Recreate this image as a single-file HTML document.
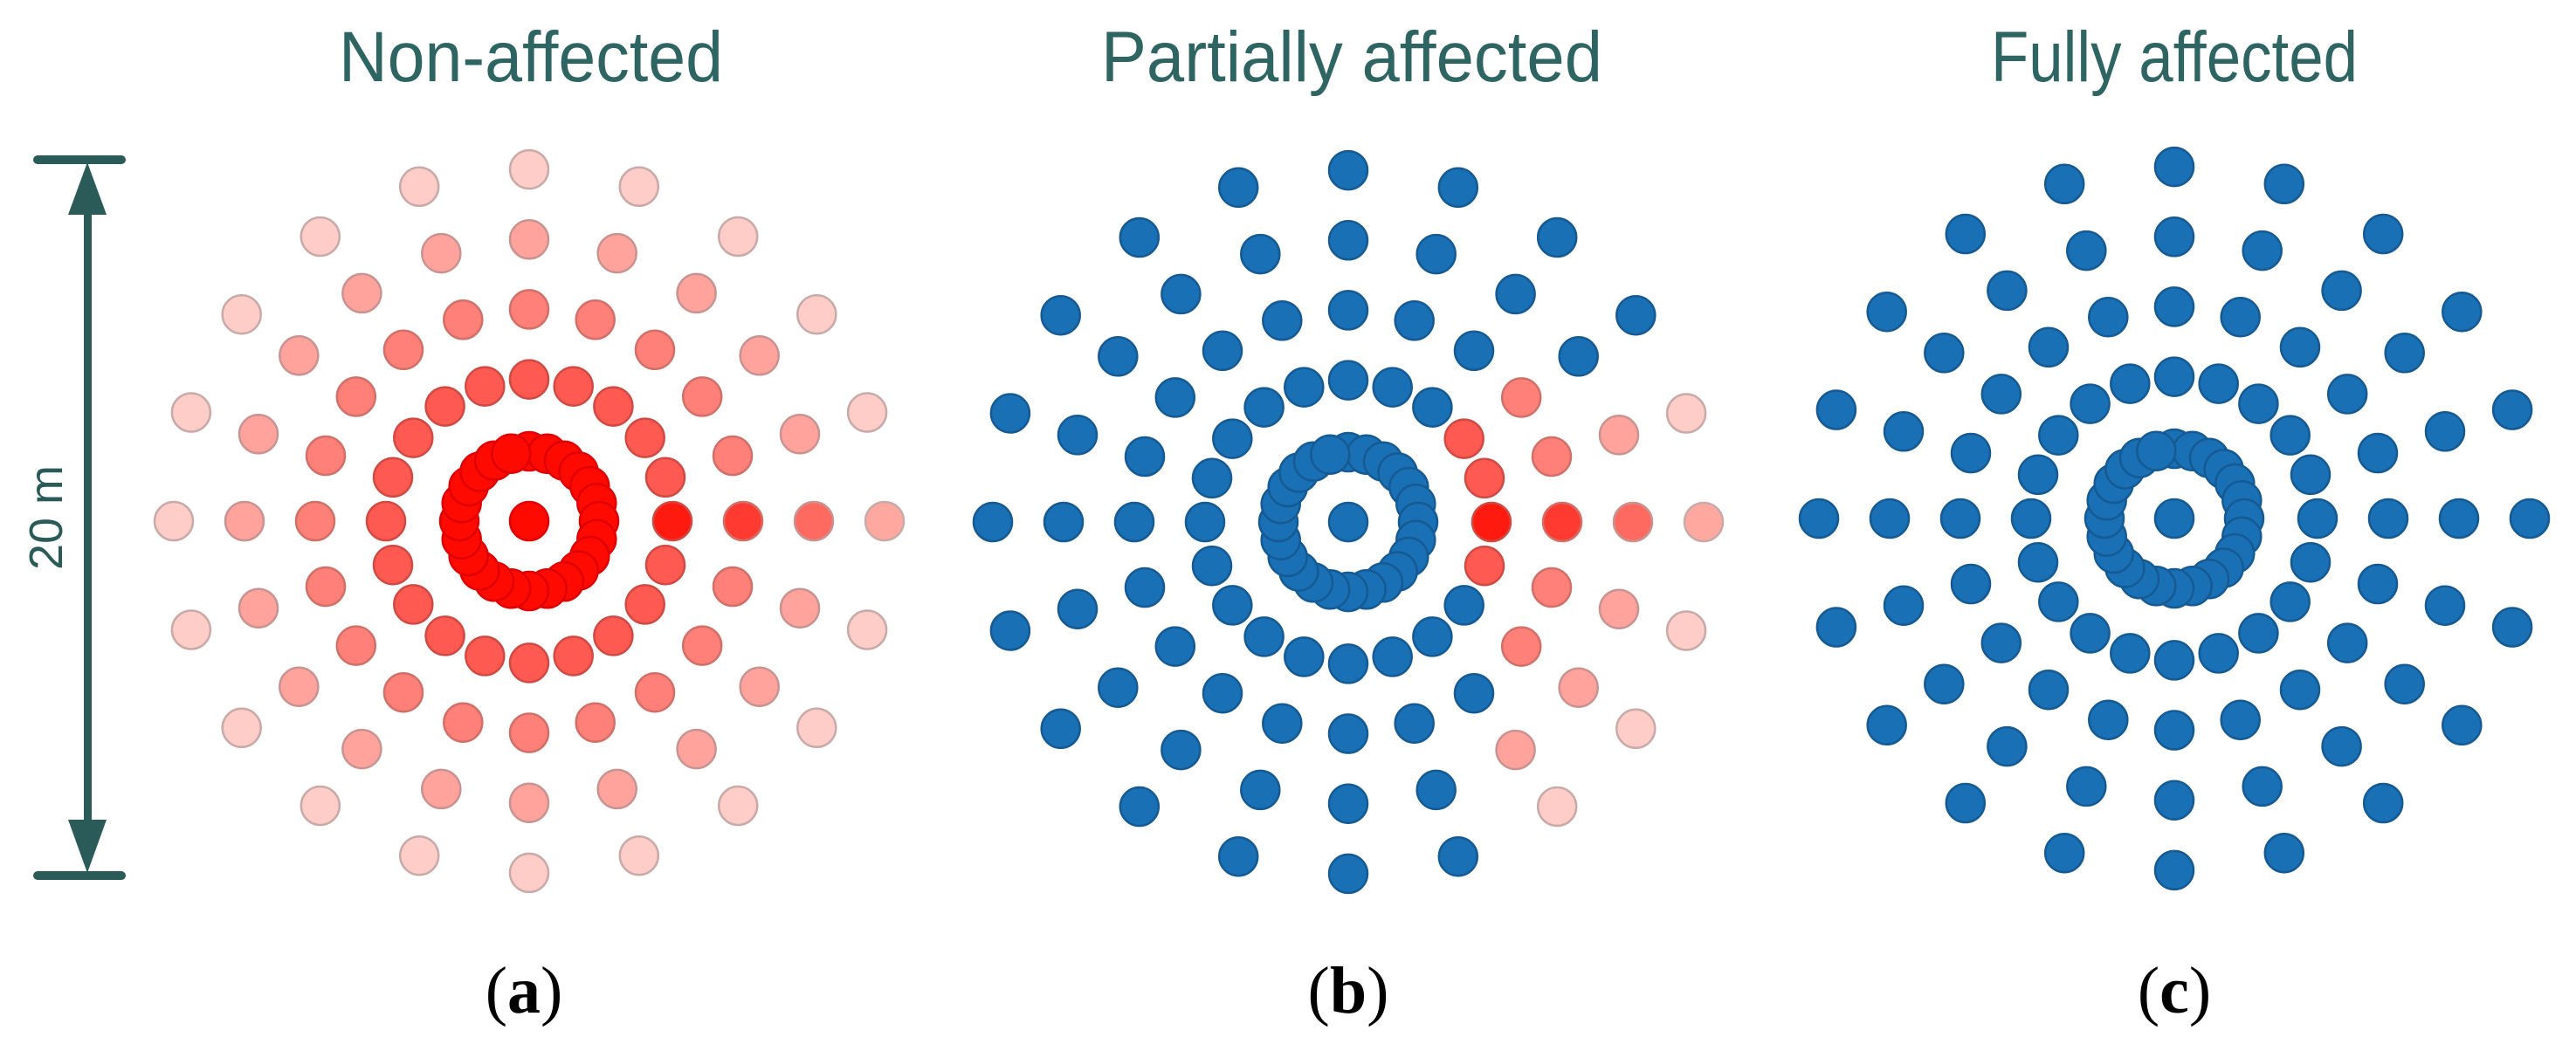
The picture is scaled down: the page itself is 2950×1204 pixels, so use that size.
<!DOCTYPE html>
<html><head><meta charset="utf-8"><style>
html,body{margin:0;padding:0;background:#fff;}
svg{display:block;}
</style></head><body>
<svg id="s" width="2950" height="1204" viewBox="0 0 2950 1204" xmlns="http://www.w3.org/2000/svg">
<rect width="2950" height="1204" fill="#fff"/>
<g font-family="Liberation Sans, sans-serif" font-size="82" fill="#2e6462" text-anchor="middle">
<text x="608" y="93" textLength="440" lengthAdjust="spacingAndGlyphs">Non-affected</text>
<text x="1548" y="93" textLength="574" lengthAdjust="spacingAndGlyphs">Partially affected</text>
<text x="2490" y="93" textLength="420" lengthAdjust="spacingAndGlyphs">Fully affected</text>
</g>
<g font-family="Liberation Serif, serif" font-size="76" fill="#000" text-anchor="middle">
<text x="600" y="1160"><tspan>(</tspan><tspan font-weight="bold">a</tspan><tspan>)</tspan></text>
<text x="1544" y="1160"><tspan>(</tspan><tspan font-weight="bold">b</tspan><tspan>)</tspan></text>
<text x="2490" y="1160"><tspan>(</tspan><tspan font-weight="bold">c</tspan><tspan>)</tspan></text>
</g>
<g fill="#2b5b59" stroke="none">
<rect x="38" y="178" width="106" height="10" rx="5"/>
<rect x="38" y="998" width="106" height="10" rx="5"/>
<rect x="96" y="240" width="9" height="705"/>
<polygon points="100,186 78,246 122,246"/>
<polygon points="100,1000 78,939 122,939"/>
</g>
<text x="0" y="0" transform="translate(71,593) rotate(-90)" font-family="Liberation Sans, sans-serif" font-size="54" fill="#2b5b59" text-anchor="middle">20 m</text>
<g id="dots"></g>
</svg>
<script>
(function(){
var g=document.getElementById('dots');var ns='http://www.w3.org/2000/svg';
function c(x,y,r,f,st){var e=document.createElementNS(ns,'circle');e.setAttribute('cx',x.toFixed(1));e.setAttribute('cy',y.toFixed(1));e.setAttribute('r',r);e.setAttribute('fill',f);e.setAttribute('stroke',st);e.setAttribute('stroke-width','2.5');g.appendChild(e);}
var R=[164,245,326,407];
var redMain=['#ff1a10','#ff3a30','#ff6a60','#ffa8a0'];
var redOth=['#ff5a52','#ff8078','#ffa39c','#ffcdc8'];
var redSt=['#d04a44','#d07068','#c89390','#c8aaa8'];
var sets=[[54,72,90,108],[54,72,90,108,126],[72,90,108,126,144],[72,90,108,126,144]];
var BL='#1a70b5',BS='#155a92';
function panel(cx,cy,mode){
 // inner ring
 for(var k=0;k<24;k++){var a=k*15*Math.PI/180;
  var x=cx+80*Math.sin(a),y=cy-80*Math.cos(a);
  if(mode=='a')c(x,y,22,'#ff0a00','#e00000');else c(x,y,22,BL,BS);}
 if(mode=='a')c(cx,cy,22,'#ff0a00','#e00000');else c(cx,cy,22,BL,BS);
 for(var i=0;i<4;i++){for(var k=0;k<20;k++){var deg=k*18;var a=deg*Math.PI/180;
  var x=cx+R[i]*Math.sin(a),y=cy-R[i]*0.99*Math.cos(a);
  var red=(mode=='a')||(mode=='b'&&sets[i].indexOf(deg)>=0);
  if(red){var f=(deg==90)?redMain[i]:redOth[i];c(x,y,22,f,redSt[i]);}
  else c(x,y,22,BL,BS);}}
}
panel(606,597,'a');panel(1544,598,'b');panel(2490,594,'c');
})();
</script>
</body></html>
